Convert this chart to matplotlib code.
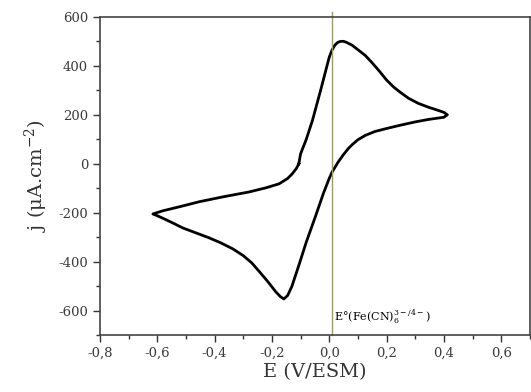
import matplotlib
matplotlib.use('Agg')
import matplotlib.pyplot as plt
from matplotlib.ticker import MultipleLocator, FuncFormatter

# cyclic voltammogram (E in V/ESM, j in uA/cm2)
E = [-0.106, -0.10, -0.08, -0.059, -0.03, -0.01, 0.0, 0.01, 0.02, 0.03,
     0.04, 0.05, 0.06, 0.08, 0.10, 0.126, 0.15, 0.175, 0.20, 0.225, 0.25,
     0.276, 0.31, 0.346, 0.38, 0.40, 0.412,
     0.40, 0.37, 0.346, 0.30, 0.25, 0.20, 0.16, 0.126, 0.10, 0.08, 0.068,
     0.05, 0.03, 0.01, 0.0, -0.02, -0.048, -0.08, -0.106, -0.13, -0.145,
     -0.158, -0.17, -0.187, -0.215, -0.244, -0.27, -0.30, -0.337, -0.38,
     -0.42, -0.47, -0.511, -0.54, -0.57, -0.60, -0.615,
     -0.58, -0.52, -0.453, -0.37, -0.279, -0.22, -0.175, -0.145, -0.129,
     -0.115, -0.106]
j = [0, 40, 100, 175, 300, 390, 435, 465, 485, 496,
     500, 500, 496, 484, 466, 442, 412, 378, 342, 313, 290,
     268, 247, 231, 218, 210, 200,
     190, 185, 181, 171, 158, 144, 132, 116, 98, 78, 64,
     38, 5, -34, -60, -120, -215, -320, -415, -500, -538,
     -552, -543, -522, -480, -440, -405, -375, -347, -322,
     -302, -280, -262, -245, -228, -212, -205,
     -192, -175, -155, -135, -115, -98, -82, -60, -41,
     -20, 0]

E0 = 0.008
x_ticks = [-0.8, -0.6, -0.4, -0.2, 0.0, 0.2, 0.4, 0.6]
y_ticks = [-600, -400, -200, 0, 200, 400, 600]


def main():
    plt.rcParams['font.family'] = ['DejaVu Serif']
    plt.rcParams['mathtext.fontset'] = 'dejavuserif'

    fig = plt.figure(figsize=(5.31, 3.92), dpi=100)
    ax = fig.add_axes([0.188, 0.145, 0.81, 0.812])

    ax.plot(E, j, color='black', lw=2.0, solid_joinstyle='round')
    ax.plot([E0, E0], [-700, 620], color='#9a9a6c', lw=1.0, clip_on=False)

    ax.text(E0 + 0.008, -625, r'E°(Fe(CN)$_6^{3-/4-}$)', fontsize=8,
            ha='left', va='center')

    ax.set_xlim(-0.8, 0.7)
    ax.set_ylim(-700, 600)
    ax.set_xticks(x_ticks)
    ax.set_yticks(y_ticks)
    ax.xaxis.set_minor_locator(MultipleLocator(0.1))
    ax.yaxis.set_minor_locator(MultipleLocator(100))
    ax.xaxis.set_major_formatter(
        FuncFormatter(lambda v, p: f'{v:.1f}'.replace('.', ',')))
    ax.yaxis.set_major_formatter(FuncFormatter(lambda v, p: f'{v:.0f}'))

    ax.tick_params(which='major', direction='out', length=5, width=1,
                   labelsize=9.5, colors='#333333', labelcolor='#3a3a3a')
    ax.tick_params(which='minor', direction='out', length=3, width=1,
                   colors='#333333')
    for s in ax.spines.values():
        s.set_color('#444444')
        s.set_linewidth(1.2)

    ax.set_xlabel('E (V/ESM)', fontsize=14, color='#333333', labelpad=2)
    ax.set_ylabel(r'j ($\mathregular{\mu}$A.cm$^{-2}$)', fontsize=14,
                  color='#333333', labelpad=6)

    fig.savefig('out.png', dpi=100)


if __name__ == '__main__':
    main()
